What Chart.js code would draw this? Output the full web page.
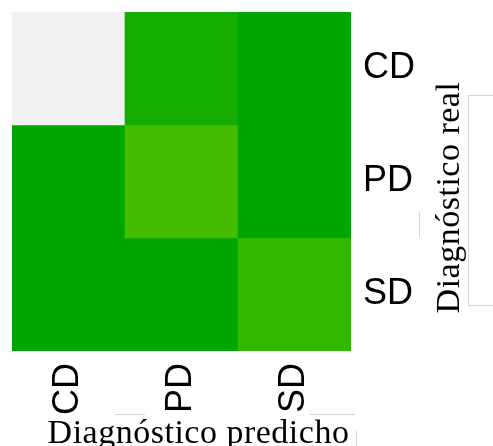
<!DOCTYPE html>
<html>
<head>
<meta charset="utf-8">
<script src="https://cdn.jsdelivr.net/npm/chart.js@4/dist/chart.umd.min.js"></script>
<style>
  html, body { margin: 0; padding: 0; background: #fff; }
  #wrap { width: 493px; height: 446px; }
</style>
</head>
<body>
<div id="wrap"><canvas id="cm"></canvas></div>
<script>
// categories (predicted on x, real on y, top row first)
const predLabels = ["CD", "PD", "SD"];
const realLabels = ["CD", "PD", "SD"];
// confusion matrix values, one row per real class
const rowCD = [50, 3, 0];
const rowPD = [0, 9, 0];
const rowSD = [0, 0, 7];
const rows = [rowCD, rowPD, rowSD];

const maxVal = Math.max(...rows.flat());

// R style terrain palette: green -> yellow -> light grey
function terrain(t) {
  let h, s, v;
  if (t <= 0.5) {
    const f = t / 0.5;
    h = 120 - 60 * f; s = 1; v = 0.65 + 0.25 * f;
  } else {
    const f = (t - 0.5) / 0.5;
    h = 60 - 60 * f; s = 1 - f; v = 0.9 + 0.05 * f;
  }
  const c = v * s;
  const x = c * (1 - Math.abs((h / 60) % 2 - 1));
  const m = v - c;
  let r, g, b;
  if (h >= 60) { r = x; g = c; b = 0; } else { r = c; g = x; b = 0; }
  const to = (q) => Math.round((q + m) * 255);
  return "rgb(" + to(r) + "," + to(g) + "," + to(b) + ")";
}

const n = realLabels.length;
const datasets = rows.map((row, i) => ({
  label: realLabels[i],
  data: row.map(() => [n - i - 1, n - i]),
  backgroundColor: row.map((v) => terrain(v / maxVal)),
  borderWidth: 0,
  categoryPercentage: 1,
  barPercentage: 1,
  grouped: false
}));

// axis titles drawn bottom-to-top like the original, plus the faint leftover frame lines
const axisTitles = {
  id: "axisTitles",
  afterDraw(chart) {
    const ctx = chart.ctx;
    const a = chart.chartArea;
    ctx.save();
    ctx.strokeStyle = "#d4d4d4";
    ctx.lineWidth = 1;
    ctx.beginPath();
    ctx.moveTo(493, 95.5); ctx.lineTo(468.5, 95.5); ctx.lineTo(468.5, 305.5); ctx.lineTo(493, 305.5);
    ctx.moveTo(419.5, 212); ctx.lineTo(419.5, 237);
    ctx.moveTo(115, 414.5); ctx.lineTo(145, 414.5);
    ctx.moveTo(310, 414.5); ctx.lineTo(355, 414.5);
    ctx.moveTo(356.5, 431); ctx.lineTo(356.5, 446);
    ctx.stroke();

    ctx.fillStyle = "#000";
    ctx.font = "34px 'Liberation Serif', serif";
    ctx.letterSpacing = "0.5px";
    ctx.textAlign = "center";
    ctx.textBaseline = "alphabetic";
    ctx.fillText("Diagnóstico predicho", (a.left + a.right) / 2 + 17, 443);
    ctx.translate(459, (a.top + a.bottom) / 2 + 16);
    ctx.rotate(-Math.PI / 2);
    ctx.fillText("Diagnóstico real", 0, 0);
    ctx.restore();
  }
};

new Chart(document.getElementById("cm"), {
  type: "bar",
  data: { labels: predLabels, datasets: datasets },
  options: {
    responsive: true,
    maintainAspectRatio: false,
    animation: false,
    layout: { padding: { left: 12, top: 12, right: 0, bottom: 0 } },
    plugins: { legend: { display: false }, tooltip: { enabled: false } },
    scales: {
      x: {
        type: "category",
        grid: { display: false, drawTicks: false },
        border: { display: false },
        ticks: {
          minRotation: 90, maxRotation: 90, padding: 12, color: "#000",
          font: { family: "'Liberation Sans', Arial, sans-serif", size: 36 }
        },
        afterFit(scale) {
          scale.height = 95;
          scale.paddingLeft = 0; scale.paddingRight = 0;
        }
      },
      y: {
        position: "right",
        min: 0, max: n,
        grid: { display: false, drawTicks: false },
        border: { display: false },
        afterBuildTicks(scale) {
          scale.ticks = realLabels.map((l, i) => ({ value: n - i - 0.5 }));
        },
        ticks: {
          padding: 12, color: "#000",
          font: { family: "'Liberation Sans', Arial, sans-serif", size: 36 },
          callback: (v) => realLabels[n - 1 - Math.floor(v)]
        },
        afterFit(scale) {
          scale.width = 142;
          scale.paddingTop = 0; scale.paddingBottom = 0;
        }
      }
    }
  },
  plugins: [axisTitles]
});
</script>
</body>
</html>
